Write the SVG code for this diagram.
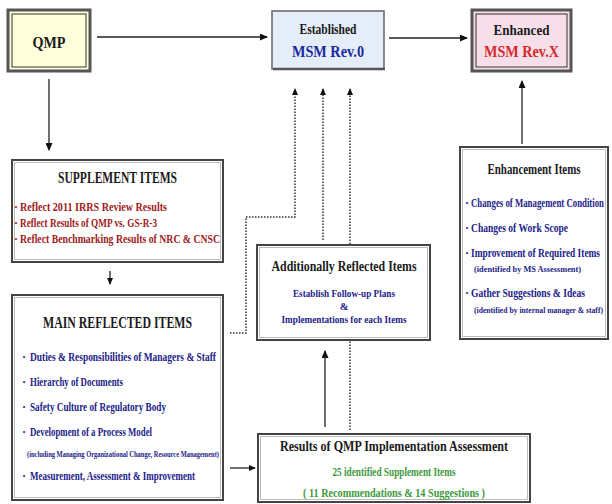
<svg xmlns="http://www.w3.org/2000/svg" width="612" height="504" viewBox="0 0 612 504">
<style>
text{font-family:"Liberation Serif","Times New Roman",serif;font-weight:bold;}
.t{fill:#1a1a1a;}
.red{fill:#9e1b1b;}
.blue{fill:#1c1c8a;}
.green{fill:#3c9a3c;}
.c{text-anchor:middle;}
.box{stroke:#444;stroke-width:2;}
.inner{fill:none;stroke:#bbb;stroke-width:1;}
.ln{stroke:#222;stroke-width:1.3;fill:none;}
.dot{stroke:#333;stroke-width:1.5;stroke-dasharray:1.5 1.5;fill:none;}
</style>
<defs>
<marker id="ah" markerUnits="userSpaceOnUse" markerWidth="8" markerHeight="7" refX="7" refY="3.5" orient="auto">
<path d="M0,0 L8,3.5 L0,7 z" fill="#111"/>
</marker>
<marker id="ahs" markerUnits="userSpaceOnUse" markerWidth="7" markerHeight="6" refX="6" refY="3" orient="auto">
<path d="M0,0 L7,3 L0,6 z" fill="#111"/>
</marker>
</defs>
<rect width="612" height="504" fill="#fff"/>

<g id="connectors">
<line class="ln" x1="97" y1="37" x2="267" y2="37" marker-end="url(#ah)"/>
<line class="ln" x1="389" y1="38" x2="467" y2="38" marker-end="url(#ah)"/>
<line class="ln" x1="49" y1="79" x2="49" y2="150" marker-end="url(#ah)"/>
<line class="ln" x1="110" y1="271" x2="110" y2="284" marker-end="url(#ahs)"/>
<line class="ln" x1="522" y1="144" x2="522" y2="81" marker-end="url(#ah)"/>
<line class="ln" x1="325" y1="427" x2="325" y2="351" marker-end="url(#ah)"/>
<line class="ln" x1="230" y1="468" x2="255" y2="468" marker-end="url(#ahs)"/>
<path class="dot" d="M230,333 H246 V217 H295 V89" marker-end="url(#ahs)"/>
<path class="dot" d="M323,240 V89" marker-end="url(#ahs)"/>
<path class="dot" d="M350,430 V89" marker-end="url(#ahs)"/>
</g>

<g id="qmp">
<rect x="8" y="10" width="82" height="61" fill="#ffffdc" stroke="#555" stroke-width="3"/>
<rect x="12" y="14" width="74" height="53" fill="none" stroke="#333" stroke-width="1"/>
<text class="t c" x="49" y="48" font-size="16" textLength="33" lengthAdjust="spacingAndGlyphs">QMP</text>
</g>

<g id="established">
<rect x="272" y="11" width="112" height="58" fill="#e4edf8" stroke="#666" stroke-width="1.5"/>
<line x1="273" y1="69" x2="385" y2="69" stroke="#555" stroke-width="2.5"/>
<text class="t c" x="328" y="34" font-size="14" textLength="57" lengthAdjust="spacingAndGlyphs">Established</text>
<text class="c" x="328" y="57" font-size="16" fill="#1a2a9e" textLength="72" lengthAdjust="spacingAndGlyphs">MSM  Rev.0</text>
</g>

<g id="enhanced">
<rect x="472" y="10" width="99" height="61" fill="#f6dfe9" stroke="#555" stroke-width="3"/>
<rect x="476" y="14" width="91" height="53" fill="none" stroke="#333" stroke-width="1"/>
<text class="t c" x="521.5" y="35" font-size="15" textLength="56" lengthAdjust="spacingAndGlyphs">Enhanced</text>
<text class="c" x="521.5" y="57" font-size="16" fill="#d42a2a" textLength="75" lengthAdjust="spacingAndGlyphs">MSM  Rev.X</text>
</g>

<g id="supplement">
<rect class="box" x="12" y="160" width="211" height="102" fill="#fff"/>
<rect class="inner" x="14.5" y="162.5" width="206" height="97"/>
<text class="t c" x="117.5" y="183" font-size="16" textLength="119" lengthAdjust="spacingAndGlyphs">SUPPLEMENT  ITEMS</text>
<text class="red" x="14" y="211" font-size="12">·</text>
<text class="red" x="20" y="211" font-size="12" textLength="147" lengthAdjust="spacingAndGlyphs">Reflect 2011 IRRS Review Results</text>
<text class="red" x="14" y="227" font-size="12">·</text>
<text class="red" x="20" y="227" font-size="12" textLength="137" lengthAdjust="spacingAndGlyphs">Reflect Results of QMP vs. GS-R-3</text>
<text class="red" x="14" y="243" font-size="12">·</text>
<text class="red" x="20" y="243" font-size="12" textLength="200" lengthAdjust="spacingAndGlyphs">Reflect Benchmarking Results of NRC &amp; CNSC</text>
</g>

<g id="main">
<rect class="box" x="12" y="295" width="211" height="205" fill="#fff"/>
<rect class="inner" x="14.5" y="297.5" width="206" height="200"/>
<text class="t c" x="117.5" y="328" font-size="16" textLength="149" lengthAdjust="spacingAndGlyphs">MAIN  REFLECTED  ITEMS</text>
<text class="blue" x="22" y="361" font-size="12">·</text>
<text class="blue" x="30" y="361" font-size="12" textLength="186" lengthAdjust="spacingAndGlyphs">Duties &amp; Responsibilities of Managers &amp; Staff</text>
<text class="blue" x="22" y="386" font-size="12">·</text>
<text class="blue" x="30" y="386" font-size="12" textLength="93" lengthAdjust="spacingAndGlyphs">Hierarchy of Documents</text>
<text class="blue" x="22" y="411" font-size="12">·</text>
<text class="blue" x="30" y="411" font-size="12" textLength="136" lengthAdjust="spacingAndGlyphs">Safety Culture of Regulatory Body</text>
<text class="blue" x="22" y="436" font-size="12">·</text>
<text class="blue" x="30" y="436" font-size="12" textLength="122" lengthAdjust="spacingAndGlyphs">Development of a Process Model</text>
<text class="blue" x="27" y="457" font-size="8" textLength="192" lengthAdjust="spacingAndGlyphs">(including Managing Organizational Change, Resource Management)</text>
<text class="blue" x="22" y="480" font-size="12">·</text>
<text class="blue" x="30" y="480" font-size="12" textLength="165" lengthAdjust="spacingAndGlyphs">Measurement, Assessment &amp; Improvement</text>
</g>

<g id="additionally">
<rect class="box" x="257" y="245" width="173" height="95" fill="#fff"/>
<rect class="inner" x="259.5" y="247.5" width="168" height="90"/>
<text class="t c" x="344" y="271" font-size="15" textLength="145" lengthAdjust="spacingAndGlyphs">Additionally  Reflected  Items</text>
<text class="blue c" x="344" y="297" font-size="10.5" textLength="102" lengthAdjust="spacingAndGlyphs">Establish Follow-up Plans</text>
<text class="blue c" x="344" y="310" font-size="10.5">&amp;</text>
<text class="blue c" x="344" y="323" font-size="10.5" textLength="125" lengthAdjust="spacingAndGlyphs">Implementations for each Items</text>
</g>

<g id="results">
<rect class="box" x="258" y="434" width="272" height="68" fill="#fff"/>
<rect class="inner" x="260.5" y="436.5" width="267" height="63"/>
<text class="t c" x="394" y="451" font-size="15" textLength="228" lengthAdjust="spacingAndGlyphs">Results  of  QMP  Implementation  Assessment</text>
<text class="green c" x="394" y="476" font-size="12" textLength="123" lengthAdjust="spacingAndGlyphs">25 identified Supplement Items</text>
<text class="green c" x="394" y="497" font-size="12" textLength="182" lengthAdjust="spacingAndGlyphs">( 11 Recommendations  &amp;  14 Suggestions )</text>
</g>

<g id="enhancement">
<rect class="box" x="460" y="147" width="148" height="192" fill="#fff"/>
<rect class="inner" x="462.5" y="149.5" width="143" height="187"/>
<text class="t c" x="534" y="174" font-size="15" textLength="93" lengthAdjust="spacingAndGlyphs">Enhancement  Items</text>
<text class="blue" x="465" y="207" font-size="12">·</text>
<text class="blue" x="471" y="207" font-size="12" textLength="133" lengthAdjust="spacingAndGlyphs">Changes of Management Condition</text>
<text class="blue" x="465" y="232" font-size="12">·</text>
<text class="blue" x="471" y="232" font-size="12" textLength="97" lengthAdjust="spacingAndGlyphs">Changes of Work Scope</text>
<text class="blue" x="465" y="257" font-size="12">·</text>
<text class="blue" x="471" y="257" font-size="12" textLength="129" lengthAdjust="spacingAndGlyphs">Improvement of Required Items</text>
<text class="blue" x="474" y="272" font-size="9" textLength="107" lengthAdjust="spacingAndGlyphs">(identified by MS Assessment)</text>
<text class="blue" x="465" y="297" font-size="12">·</text>
<text class="blue" x="471" y="297" font-size="12" textLength="114" lengthAdjust="spacingAndGlyphs">Gather Suggestions &amp; Ideas</text>
<text class="blue" x="474" y="313" font-size="9" textLength="129" lengthAdjust="spacingAndGlyphs">(identified by internal manager &amp; staff)</text>
</g>
</svg>
